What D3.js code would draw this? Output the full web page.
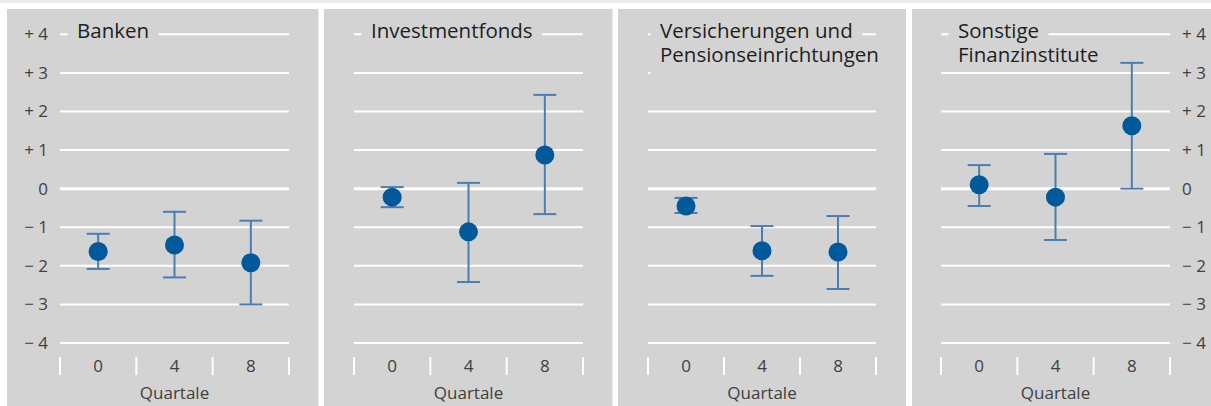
<!DOCTYPE html>
<html>
<head>
<meta charset="utf-8">
<script src="https://cdn.jsdelivr.net/npm/d3@7"></script>
<style>
  html, body { margin: 0; padding: 0; background: #ffffff; }
  svg { display: block; }
  text { font-family: "Open Sans", "Noto Sans", sans-serif; }
</style>
</head>
<body>
<svg id="chart" width="1211" height="406"></svg>
<script>
// Horizon categories (quarters ahead)
const categories = ["0", "4", "8"];

// Panel titles (line breaks as drawn)
const panelTitles = [
  ["Banken"],
  ["Investmentfonds"],
  ["Versicherungen und", "Pensionseinrichtungen"],
  ["Sonstige", "Finanzinstitute"]
];

// Point estimates per panel, one value per horizon
const banken      = [-1.63, -1.46, -1.92];
const fonds       = [-0.22, -1.12,  0.87];
const versicherer = [-0.45, -1.61, -1.64];
const sonstige    = [ 0.10, -0.22,  1.63];

// Upper and lower ends of the confidence bands
const bankenHi      = [-1.17, -0.60, -0.83];
const bankenLo      = [-2.08, -2.30, -3.00];
const fondsHi       = [ 0.04,  0.15,  2.43];
const fondsLo       = [-0.48, -2.42, -0.66];
const versichererHi = [-0.24, -0.97, -0.71];
const versichererLo = [-0.63, -2.26, -2.60];
const sonstigeHi    = [ 0.61,  0.90,  3.26];
const sonstigeLo    = [-0.45, -1.33,  0.00];

// Y-axis tick values
const yTicks = [4, 3, 2, 1, 0, -1, -2, -3, -4];

const series = [
  { mid: banken,      hi: bankenHi,      lo: bankenLo },
  { mid: fonds,       hi: fondsHi,       lo: fondsLo },
  { mid: versicherer, hi: versichererHi, lo: versichererLo },
  { mid: sonstige,    hi: sonstigeHi,    lo: sonstigeLo }
];

// Layout
const panelBoxes = [[7, 318.5], [324, 612.5], [618, 906], [912, 1211]];
const plotX = [[60, 289], [354, 583], [648, 876], [941, 1170]];
const titleInset = [17, 17, 12, 17];
const plotTop = 34.3, plotBottom = 343;
const labelSize = 17;
const labelColor = "#404040";

const svg = d3.select("#chart");
const fmt = d => d > 0 ? "+ " + d : d < 0 ? "\u2212 " + (-d) : "0";

const y = d3.scaleLinear().domain([-4, 4]).range([plotBottom, plotTop]);

// thin strip along the top edge
svg.append("rect").attr("x", 0).attr("y", 0).attr("width", 1211).attr("height", 3).attr("fill", "#ececec");

const dotColor = "#00599b";
const barColor = "#4b7db1";
const panelFill = "#d3d3d3";

series.forEach((s, i) => {
  const [px0, px1] = panelBoxes[i];
  const [gx0, gx1] = plotX[i];
  const g = svg.append("g");

  g.append("rect")
    .attr("x", px0).attr("y", 9)
    .attr("width", px1 - px0).attr("height", 406 - 9)
    .attr("fill", panelFill);

  const x = d3.scaleBand().domain(categories).range([gx0, gx1]).paddingInner(0).paddingOuter(0);

  // horizontal grid
  g.selectAll("line.grid").data(yTicks).join("line")
    .attr("class", "grid")
    .attr("x1", gx0).attr("x2", gx1)
    .attr("y1", d => y(d)).attr("y2", d => y(d))
    .attr("stroke", "#ffffff")
    .attr("stroke-width", d => d === 0 ? 3 : 2);

  // title with backing boxes that hide the grid underneath
  const boxes = g.append("g");
  const tx = gx0 + titleInset[i];
  const title = g.append("text")
    .attr("font-size", 20.5).attr("fill", "#1e1e1e");
  panelTitles[i].forEach((line, k) => {
    const base = 38.3 + k * 24;
    const ts = title.append("tspan")
      .attr("x", tx).attr("y", base)
      .text(line);
    const w = ts.node().getComputedTextLength();
    const desc = /[gjpqy]/.test(line) ? 4.5 : 0;
    boxes.append("rect")
      .attr("x", tx - 9.5).attr("y", base - 22)
      .attr("width", w + 19).attr("height", 22 + desc + 8)
      .attr("fill", panelFill);
  });

  // x-axis separators at band edges
  const edges = categories.map(c => x(c)).concat([gx1]);
  g.selectAll("line.sep").data(edges).join("line")
    .attr("class", "sep")
    .attr("x1", d => d).attr("x2", d => d)
    .attr("y1", 357).attr("y2", 375)
    .attr("stroke", "#ffffff").attr("stroke-width", 2);

  // x-axis labels
  const xAxis = g.append("g")
    .attr("transform", `translate(0, 359.5)`)
    .call(d3.axisBottom(x).tickSize(0).tickPadding(0));
  xAxis.select(".domain").remove();
  xAxis.selectAll("text")
    .attr("font-size", labelSize).attr("fill", labelColor)
    .attr("font-family", "Open Sans, Noto Sans, sans-serif")
    .attr("dy", "0.71em");

  g.append("text")
    .attr("x", (gx0 + gx1) / 2).attr("y", 399)
    .attr("text-anchor", "middle")
    .attr("font-size", labelSize).attr("fill", labelColor)
    .text("Quartale");

  // error bars
  const cap = 11.5;
  const cx = c => x(c) + x.bandwidth() / 2;
  const bars = g.selectAll("g.bar").data(categories).join("g").attr("class", "bar");
  bars.append("line")
    .attr("x1", cx).attr("x2", cx)
    .attr("y1", (c, j) => y(s.hi[j])).attr("y2", (c, j) => y(s.lo[j]))
    .attr("stroke", barColor).attr("stroke-width", 2);
  bars.append("line")
    .attr("x1", c => cx(c) - cap).attr("x2", c => cx(c) + cap)
    .attr("y1", (c, j) => y(s.hi[j])).attr("y2", (c, j) => y(s.hi[j]))
    .attr("stroke", barColor).attr("stroke-width", 2);
  bars.append("line")
    .attr("x1", c => cx(c) - cap).attr("x2", c => cx(c) + cap)
    .attr("y1", (c, j) => y(s.lo[j])).attr("y2", (c, j) => y(s.lo[j]))
    .attr("stroke", barColor).attr("stroke-width", 2);
  bars.append("circle")
    .attr("cx", cx)
    .attr("cy", (c, j) => y(s.mid[j]))
    .attr("r", 9.5)
    .attr("fill", dotColor);
});

// left value axis
const yLeft = svg.append("g")
  .attr("transform", "translate(48,0)")
  .call(d3.axisLeft(y).tickValues(yTicks).tickFormat(fmt).tickSize(0).tickPadding(0));
yLeft.select(".domain").remove();
yLeft.selectAll("text").attr("font-size", labelSize).attr("fill", labelColor)
  .attr("font-family", "Open Sans, Noto Sans, sans-serif");

// right value axis
const yRight = svg.append("g")
  .attr("transform", "translate(1182,0)")
  .call(d3.axisRight(y).tickValues(yTicks).tickFormat(fmt).tickSize(0).tickPadding(0));
yRight.select(".domain").remove();
yRight.selectAll("text").attr("font-size", labelSize).attr("fill", labelColor)
  .attr("font-family", "Open Sans, Noto Sans, sans-serif");
</script>
</body>
</html>
